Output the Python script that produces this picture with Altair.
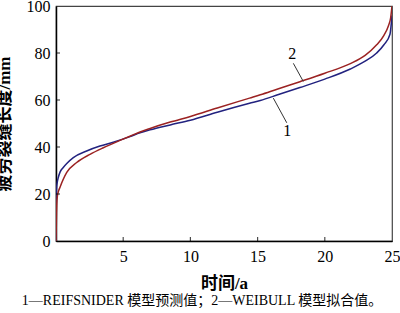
import altair as alt
import pandas as pd

# Curve 1: REIFSNIDER model prediction
x1 = [0, 0.01, 0.02, 0.03, 0.05, 0.08, 0.17, 0.3, 0.54, 0.8, 1.29, 2.28, 3.27, 4.26, 5.5, 6.25, 7, 8.5, 10, 12, 14.4,
      15.2, 16.5, 18.15, 20, 21.9, 23, 23.86, 24.4, 24.85, 25]
y1 = [0, 8, 15, 20, 22.8, 24.5, 27, 29.3, 31.3, 33, 35.5, 38.3, 40.4, 42.0, 44.4, 46.0, 47.3, 49.4, 51.4, 54.8, 58.6,
      59.8, 62.2, 65.3, 68.9, 73.2, 76.5, 80, 83.5, 88, 96]

# Curve 2: WEIBULL model fit
x2 = [0, 0.02, 0.04, 0.06, 0.1, 0.15, 0.3, 0.8, 1.54, 2.53, 3.52, 4.76, 5.5, 6.25, 7, 8.5, 10, 12, 14.4, 15.2, 16.5,
      18.15, 20, 21.9, 23, 23.86, 24.4, 24.73, 24.9, 25]
y2 = [0, 6, 12, 16, 19, 20.5, 22.9, 29.2, 33.4, 36.9, 39.7, 42.8, 44.6, 46.4, 47.9, 50.6, 53.0, 56.6, 60.8, 62.2, 64.7,
      67.8, 71.4, 75.5, 79, 83.5, 87.5, 91.5, 95, 100]

# annotation labels and leader lines (data coordinates)
ann_text = ["1", "2"]
ann_x = [17.2, 17.57]
ann_y = [46.8, 79.5]
lead_x = [17.17, 17.66]
lead_y = [50.3, 75.6]
lead_x2 = [16.17, 18.4]
lead_y2 = [60.8, 67.9]

x_ticks = [0, 5, 10, 15, 20, 25]
y_ticks = [0, 20, 40, 60, 80, 100]
inner_x_ticks = [5, 10, 15, 20]
inner_y_ticks = [20, 40, 60, 80]

series_names = ["1", "2"]
series_colors = ["#22227f", "#9b2222"]

df = pd.concat([
    pd.DataFrame({"t": x1, "len": y1, "s": "1", "o": range(len(x1))}),
    pd.DataFrame({"t": x2, "len": y2, "s": "2", "o": range(len(x2))}),
])
ann = pd.DataFrame({"text": ann_text, "x": ann_x, "y": ann_y})
lead = pd.DataFrame({"x": lead_x, "y": lead_y, "x2": lead_x2, "y2": lead_y2})
xt = pd.DataFrame({"v": inner_x_ticks})
yt = pd.DataFrame({"v": inner_y_ticks})

SERIF = "Liberation Serif, Noto Sans CJK SC"
W, H = 336, 235

xscale = alt.Scale(domain=[0, 25], nice=False, zero=False)
yscale = alt.Scale(domain=[0, 100], nice=False)

xaxis = alt.Axis(values=x_ticks, title="时间/a", ticks=False, grid=False,
                 domainColor="black", domainWidth=1.5,
                 labelFont=SERIF, labelFontSize=16, labelColor="black", labelPadding=7,
                 labelExpr="datum.value == 0 ? '' : datum.label", labelFlush=False,
                 titleFont=SERIF, titleFontSize=17, titleFontWeight="bold", titleColor="black",
                 titlePadding=11)
yaxis = alt.Axis(values=y_ticks, title="疲劳裂缝长度/mm", ticks=False, grid=False,
                 domainColor="black", domainWidth=1.5,
                 labelFont=SERIF, labelFontSize=16, labelColor="black", labelPadding=6,
                 labelFlush=False,
                 titleFont=SERIF, titleFontSize=17, titleFontWeight="bold", titleColor="black",
                 titlePadding=13)

lines = alt.Chart(df).mark_line(strokeWidth=1.5, clip=True, interpolate="monotone").encode(
    x=alt.X("t:Q", scale=xscale, axis=xaxis),
    y=alt.Y("len:Q", scale=yscale, axis=yaxis),
    color=alt.Color("s:N", scale=alt.Scale(domain=series_names, range=series_colors), legend=None),
    order="o:Q",
)

xticks_in = alt.Chart(xt).mark_tick(orient="vertical", size=4, thickness=1.2, color="black", yOffset=-2).encode(
    x=alt.X("v:Q", scale=xscale, axis=xaxis), y=alt.YDatum(0, scale=yscale, axis=yaxis))
yticks_in = alt.Chart(yt).mark_tick(orient="horizontal", size=4, thickness=1.2, color="black", xOffset=2).encode(
    y=alt.Y("v:Q", scale=yscale, axis=yaxis), x=alt.XDatum(0, scale=xscale, axis=xaxis))

leaders = alt.Chart(lead).mark_rule(color="#333333", strokeWidth=1).encode(
    x=alt.X("x:Q", scale=xscale, axis=xaxis), y=alt.Y("y:Q", scale=yscale, axis=yaxis), x2="x2:Q", y2="y2:Q")

labels = alt.Chart(ann).mark_text(font=SERIF, fontSize=16, color="black").encode(
    x=alt.X("x:Q", scale=xscale, axis=xaxis), y=alt.Y("y:Q", scale=yscale, axis=yaxis), text="text:N")

chart = alt.layer(lines, xticks_in, yticks_in, leaders, labels).properties(
    width=W, height=H,
    autosize=alt.AutoSizeParams(type="none"),
    padding={"left": 56, "top": 6, "right": 8, "bottom": 72},
    title=alt.TitleParams(
        text="1—REIFSNIDER 模型预测值；2—WEIBULL 模型拟合值。",
        orient="bottom", anchor="middle", font=SERIF, fontSize=14, fontWeight="normal",
        color="black", offset=3, dx=-22),
).configure(background="white").configure_view(stroke="#444444", strokeWidth=1.2)

chart.save("out.html", embed_options={"renderer": "svg", "actions": False})
